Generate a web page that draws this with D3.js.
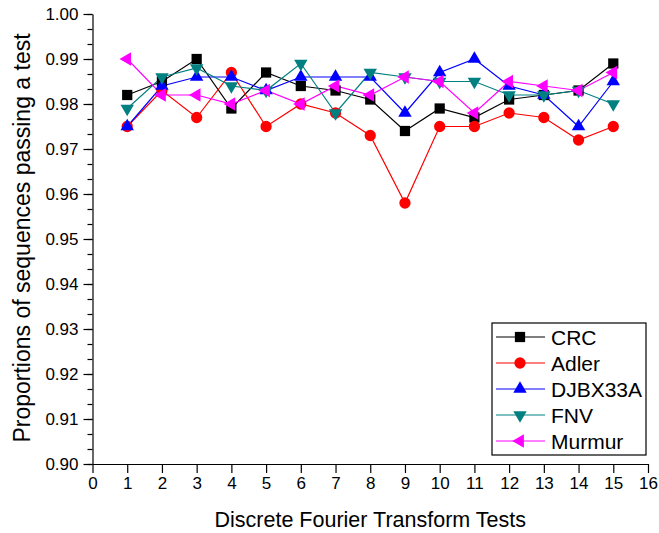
<!DOCTYPE html>
<html>
<head>
<meta charset="utf-8">
<script src="https://cdn.jsdelivr.net/npm/d3@7"></script>
<style>
  body { margin: 0; background: #fff; }
  text { font-family: "Liberation Sans", Arial, sans-serif; }
</style>
</head>
<body>
<div id="chart"></div>
<script>
const tests = [1, 2, 3, 4, 5, 6, 7, 8, 9, 10, 11, 12, 13, 14, 15];
const crc     = [0.982, 0.985, 0.990, 0.979, 0.987, 0.984, 0.983, 0.981, 0.974, 0.979, 0.977, 0.981, 0.982, 0.983, 0.989];
const adler   = [0.975, 0.983, 0.977, 0.987, 0.975, 0.980, 0.978, 0.973, 0.958, 0.975, 0.975, 0.978, 0.977, 0.972, 0.975];
const djbx33a = [0.975, 0.984, 0.986, 0.986, 0.983, 0.986, 0.986, 0.986, 0.978, 0.987, 0.990, 0.984, 0.982, 0.975, 0.985];
const fnv     = [0.979, 0.986, 0.988, 0.984, 0.983, 0.989, 0.978, 0.987, 0.986, 0.985, 0.985, 0.982, 0.982, 0.983, 0.980];
const murmur  = [0.990, 0.982, 0.982, 0.980, 0.983, 0.980, 0.984, 0.982, 0.986, 0.985, 0.978, 0.985, 0.984, 0.983, 0.987];

const xTicks = d3.range(0, 17);
const yTicks = [0.90, 0.91, 0.92, 0.93, 0.94, 0.95, 0.96, 0.97, 0.98, 0.99, 1.00];

const series = [
  { name: "CRC", values: crc, color: "#000000", shape: d3.symbolSquare, size: 105, rot: 0 },
  { name: "Adler", values: adler, color: "#ff0000", shape: d3.symbolCircle, size: 100, rot: 0 },
  { name: "DJBX33A", values: djbx33a, color: "#0000ff", shape: d3.symbolTriangle, size: 78, rot: 0 },
  { name: "FNV", values: fnv, color: "#008080", shape: d3.symbolTriangle, size: 78, rot: 180 },
  { name: "Murmur", values: murmur, color: "#ff00ff", shape: d3.symbolTriangle, size: 78, rot: -90 },
];

const W = 659, H = 533;
const margin = { top: 14, right: 11, bottom: 69, left: 92.5 };

const svg = d3.select("#chart").append("svg")
  .attr("width", W)
  .attr("height", H);

const x = d3.scaleLinear().domain([0, 16]).range([margin.left, W - margin.right]);
const y = d3.scaleLinear().domain([0.90, 1.00]).range([H - margin.bottom, margin.top]);

// axes
svg.append("g")
  .attr("transform", `translate(0,${H - margin.bottom})`)
  .call(d3.axisBottom(x).tickValues(xTicks).tickFormat(d3.format("d")).tickSize(9).tickPadding(4).tickSizeOuter(0));

// minor ticks, two per major step
const yMinor = d3.range(0, 31).map(i => 0.90 + i * 0.01 / 3);
svg.append("g")
  .attr("transform", `translate(${margin.left},0)`)
  .call(d3.axisLeft(y).tickValues(yMinor).tickSize(5).tickFormat("").tickSizeOuter(0))
  .select(".domain").remove();

svg.append("g")
  .attr("transform", `translate(${margin.left},0)`)
  .call(d3.axisLeft(y).tickValues(yTicks).tickFormat(d3.format(".2f")).tickSize(9).tickPadding(5).tickSizeOuter(0));

svg.selectAll(".domain, .tick line").attr("stroke", "#000").attr("stroke-width", 1.2);
svg.selectAll(".tick text").style("font-size", "17px").attr("fill", "#000");

// titles
svg.append("text")
  .attr("x", (x(0) + x(16)) / 2)
  .attr("y", 527)
  .attr("text-anchor", "middle")
  .style("font-size", "21.5px")
  .text("Discrete Fourier Transform Tests");

svg.append("text")
  .attr("transform", "translate(30,238) rotate(-90)")
  .attr("text-anchor", "middle")
  .style("font-size", "23px")
  .text("Proportions of sequences passing a test");

// lines + markers
const line = d3.line().x((d, i) => x(tests[i])).y(d => y(d));

series.forEach(s => {
  svg.append("path")
    .datum(s.values)
    .attr("fill", "none")
    .attr("stroke", s.color)
    .attr("stroke-width", 1.2)
    .attr("d", line);
});

series.forEach(s => {
  svg.append("g").selectAll("path")
    .data(s.values)
    .enter()
    .append("path")
    .attr("d", d3.symbol().type(s.shape).size(s.size))
    .attr("transform", (d, i) => `translate(${x(tests[i])},${y(d)}) rotate(${s.rot})`)
    .attr("fill", s.color);
});

// legend
const legend = svg.append("g");
legend.append("rect")
  .attr("x", 492).attr("y", 323)
  .attr("width", 154).attr("height", 132)
  .attr("fill", "#fff")
  .attr("stroke", "#000")
  .attr("stroke-width", 1.2);

series.forEach((s, i) => {
  const ly = 337 + i * 26;
  legend.append("line")
    .attr("x1", 496).attr("x2", 545)
    .attr("y1", ly).attr("y2", ly)
    .attr("stroke", s.color)
    .attr("stroke-width", 1.2);
  legend.append("path")
    .attr("d", d3.symbol().type(s.shape).size(s.size))
    .attr("transform", `translate(520,${ly}) rotate(${s.rot})`)
    .attr("fill", s.color);
  legend.append("text")
    .attr("x", 551)
    .attr("y", ly)
    .attr("dy", "0.36em")
    .style("font-size", "21px")
    .text(s.name);
});
</script>
</body>
</html>
